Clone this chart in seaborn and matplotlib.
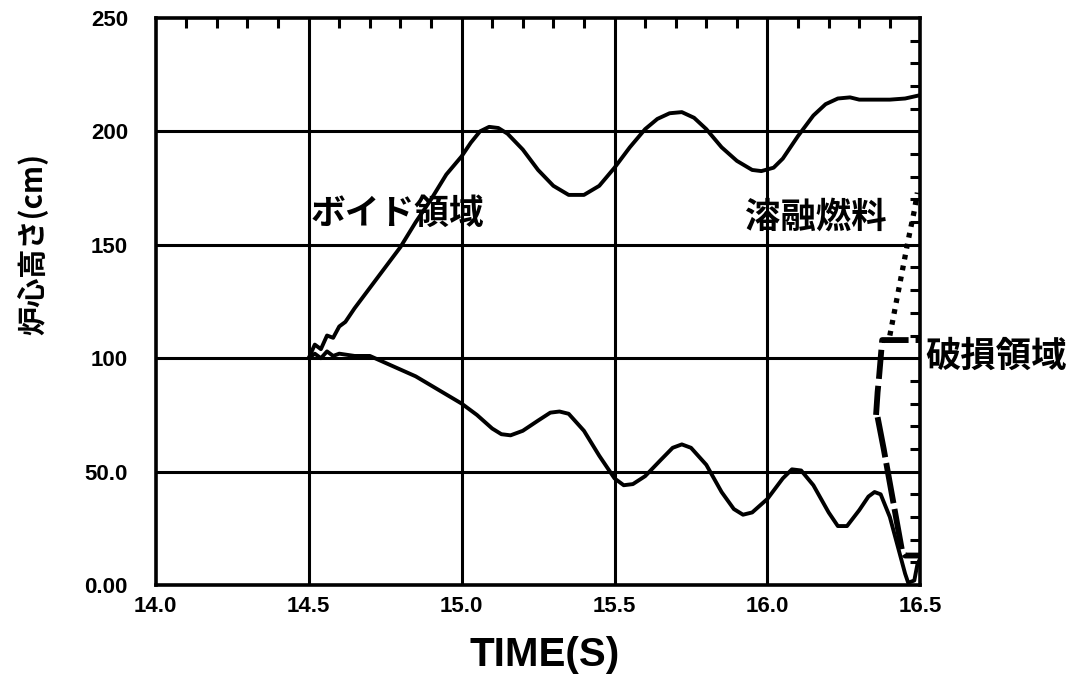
import numpy as np
import pandas as pd
import matplotlib
matplotlib.use("Agg")
import matplotlib.pyplot as plt
import seaborn as sns
from matplotlib.ticker import MultipleLocator, FixedLocator, FixedFormatter

sns.set_style("white")
plt.rcParams['font.family'] = ['Liberation Sans', 'Noto Sans CJK JP', 'DejaVu Sans']
plt.rcParams['text.color'] = 'black'
plt.rcParams['axes.labelcolor'] = 'black'
plt.rcParams['xtick.color'] = 'black'
plt.rcParams['ytick.color'] = 'black'

# ---- data ----
void_upper_t = [14.50, 14.52, 14.54, 14.56, 14.58, 14.60, 14.62, 14.65, 14.70, 14.75, 14.80,
                14.85, 14.90, 14.95, 15.00, 15.03, 15.06, 15.09, 15.12, 15.15, 15.20, 15.25,
                15.30, 15.35, 15.40, 15.45, 15.50, 15.55, 15.60, 15.64, 15.68, 15.72, 15.76,
                15.80, 15.85, 15.90, 15.95, 15.98, 16.02, 16.05, 16.10, 16.15, 16.19, 16.23,
                16.27, 16.30, 16.35, 16.40, 16.45, 16.50]
void_upper_v = [100, 106, 104, 110, 109, 114, 116, 122, 131, 140, 149,
                160, 170, 181, 189, 195, 200, 202, 201.5, 199, 192, 183,
                176, 172, 172, 176, 184, 193, 201, 205.5, 208, 208.5, 206,
                201, 193, 187, 183, 182.5, 184, 188, 198, 207, 212, 214.5,
                215, 214, 214, 214, 214.5, 216]

void_lower_t = [14.50, 14.52, 14.54, 14.56, 14.58, 14.60, 14.65, 14.70, 14.75, 14.80, 14.85,
                14.90, 14.95, 15.00, 15.05, 15.10, 15.13, 15.16, 15.20, 15.25, 15.29, 15.32,
                15.35, 15.40, 15.45, 15.50, 15.53, 15.56, 15.60, 15.65, 15.69, 15.72, 15.75,
                15.80, 15.85, 15.89, 15.92, 15.95, 16.00, 16.05, 16.08, 16.11, 16.15, 16.20,
                16.23, 16.26, 16.30, 16.33, 16.35, 16.37, 16.40, 16.43, 16.45, 16.46, 16.48,
                16.49, 16.50]
void_lower_v = [100, 102, 100, 103, 101, 102, 101, 101, 98, 95, 92,
                88, 84, 80, 75, 69, 66.5, 66, 68, 72.5, 76, 76.5,
                75.5, 68, 57, 47, 44, 44.5, 48, 55, 60.5, 62, 60.5,
                53, 41, 33.5, 31, 32, 38, 47, 51, 50.5, 44, 32,
                26, 26, 33, 39, 41, 40, 30, 15, 5, 1, 2,
                9, 12]

damage_upper_t = [16.355, 16.36, 16.365, 16.37, 16.375, 16.50]
damage_upper_v = [75, 85, 92, 100, 108, 108]
damage_lower_t = [16.36, 16.38, 16.40, 16.42, 16.44, 16.45, 16.50]
damage_lower_v = [74, 60, 45, 30, 15, 13, 13]

fuel_t = [16.40, 16.42, 16.44, 16.46, 16.48, 16.49]
fuel_v = [110, 124, 138, 152, 165, 173]

x_ticks = [14.0, 14.5, 15.0, 15.5, 16.0, 16.5]
x_labels = ["14.0", "14.5", "15.0", "15.5", "16.0", "16.5"]
y_ticks = [0, 50, 100, 150, 200, 250]
y_labels = ["0.00", "50.0", "100", "150", "200", "250"]

labels = ["ボイド領域", "溶融燃料", "破損領域"]

# ---- figure ----
fig = plt.figure(figsize=(10.74, 6.84), dpi=100)
ax = fig.add_axes([0.145, 0.1447, 0.712, 0.829])

for xv in x_ticks[1:-1]:
    ax.axvline(xv, color='black', lw=2.2, zorder=1)
for yv in y_ticks[1:-1]:
    ax.axhline(yv, color='black', lw=2.2, zorder=1)

def df(t, v):
    return pd.DataFrame({"t": t, "v": v})

kw = dict(x="t", y="v", ax=ax, color="black", sort=False, estimator=None, legend=False)
sns.lineplot(data=df(void_upper_t, void_upper_v), lw=2.8, **kw)
sns.lineplot(data=df(void_lower_t, void_lower_v), lw=2.8, **kw)
sns.lineplot(data=df(damage_upper_t, damage_upper_v), lw=4.2, **kw)
sns.lineplot(data=df(damage_lower_t, damage_lower_v), lw=4.2, **kw)
sns.lineplot(data=df(fuel_t, fuel_v), lw=3.8, **kw)
ax.lines[-1].set_linestyle((0, (0.9, 1.2)))
ax.lines[-3].set_linestyle((0, (5, 1.2)))
ax.lines[-2].set_linestyle((0, (7, 1.0)))
for ln in ax.lines:
    ln.set_solid_joinstyle('round')

ax.set_xlim(14.0, 16.5)
ax.set_ylim(0, 250)
ax.xaxis.set_major_locator(FixedLocator(x_ticks))
ax.xaxis.set_major_formatter(FixedFormatter(x_labels))
ax.yaxis.set_major_locator(FixedLocator(y_ticks))
ax.yaxis.set_major_formatter(FixedFormatter(y_labels))
ax.xaxis.set_minor_locator(MultipleLocator(0.1))
ax.yaxis.set_minor_locator(MultipleLocator(10))
ax.tick_params(which='both', direction='in', top=True, right=True, width=2.2,
               color='black', labelcolor='black')
ax.tick_params(which='major', length=0, labelsize=16)
ax.tick_params(axis='x', which='major', pad=8)
ax.tick_params(axis='y', which='major', pad=20)
ax.tick_params(which='minor', length=7)
for s in ax.spines.values():
    s.set_linewidth(2.6)
    s.set_color('black')
for lab in ax.get_xticklabels() + ax.get_yticklabels():
    lab.set_fontweight('bold')

ax.set_xlabel("")
ax.set_ylabel("")
fig.text(0.507, 0.042, "TIME(S)", fontsize=29, fontweight='bold', ha='center', va='center',
         color='black', family=['Liberation Sans Narrow', 'Liberation Sans'])
jp = ['Noto Sans CJK JP', 'DejaVu Sans']
fig.text(0.030, 1 - 244 / 684, "炉心高さ(cm)", fontsize=21, fontweight='bold', rotation=90,
         ha='center', va='center', color='black', family=jp)

ax.text(14.505, 164, labels[0], fontsize=25, fontweight='bold', va='center', ha='left', family=jp,
        color='black', zorder=5)
ax.text(15.925, 162, labels[1], fontsize=25.5, fontweight='bold', va='center', ha='left', family=jp,
        color='black', zorder=5)
ax.text(16.515, 101, labels[2], fontsize=25.5, fontweight='bold', va='center', ha='left', family=jp,
        color='black', clip_on=False)

fig.savefig("out.png", dpi=100)
